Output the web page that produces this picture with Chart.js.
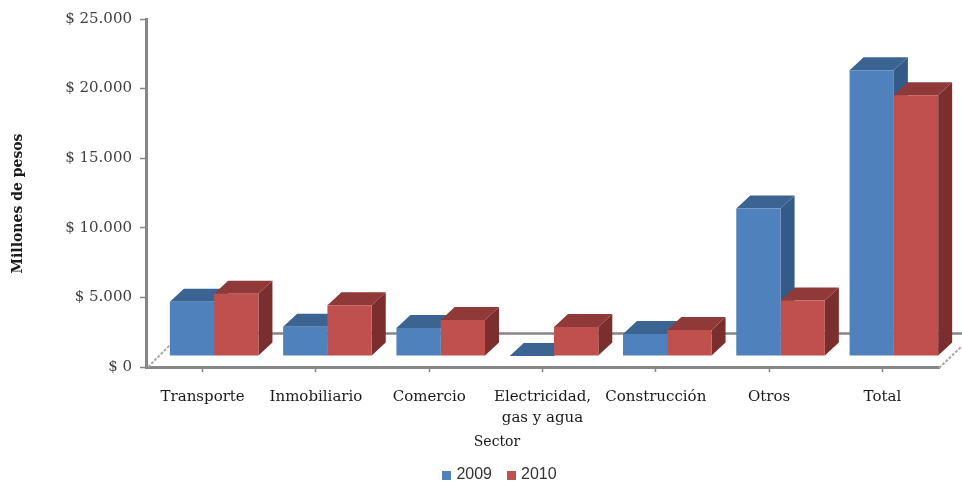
<!DOCTYPE html>
<html>
<head>
<meta charset="utf-8">
<style>html,body{margin:0;padding:0;background:#fff}canvas{display:block}</style>
<script src="https://cdn.jsdelivr.net/npm/chart.js@4"></script>
</head>
<body>
<canvas id="c" width="962" height="481"></canvas>
<script>
const categories = ['Transporte', 'Inmobiliario', 'Comercio', ['Electricidad,', 'gas y agua'], 'Construcción', 'Otros', 'Total'];
const values2009 = [3890, 2110, 2020, 0, 1585, 10590, 20530];
const values2010 = [4470, 3650, 2590, 2090, 1870, 3990, 18730];
const yTicks = [0, 5000, 10000, 15000, 20000, 25000];
const seriesNames = ['2009', '2010'];
const xTitle = 'Sector';
const yTitle = 'Millones de pesos';

const faceColors = [
  {front: '#4F81BD', top: '#3C6493', side: '#345A87'},
  {front: '#C0504D', top: '#8F3A38', side: '#7A2F2E'}
];
const serifFont = '"DejaVu Serif", serif';
const axisGrey = '#868686';
const shiftX = 11.5, shiftY = -11;
const depthX = 14, depthY = -13;

function swatch(color) {
  const s = document.createElement('canvas');
  s.width = 9; s.height = 9;
  const g = s.getContext('2d');
  g.fillStyle = color; g.fillRect(0, 0, 9, 9);
  return s;
}

const threeD = {
  id: 'threeD',
  afterLayout(chart) {
    const l = chart.legend;
    l.left += 31; l.right += 31;
    l.top += 12; l.bottom += 12;
  },
  beforeDatasetsDraw(chart) {
    const {ctx, chartArea: a} = chart;
    const y0 = chart.scales.y.getPixelForValue(0);
    ctx.save();
    ctx.strokeStyle = axisGrey;
    ctx.lineWidth = 2.5;
    ctx.beginPath();
    ctx.moveTo(a.left + 24, y0 - 33.5);
    ctx.lineTo(962, y0 - 33.5);
    ctx.stroke();
    ctx.strokeStyle = '#A8A8A8';
    ctx.lineWidth = 2;
    ctx.setLineDash([3, 1.5]);
    ctx.beginPath();
    ctx.moveTo(a.left + 2, y0);
    ctx.lineTo(a.left + 24, y0 - 22);
    ctx.moveTo(a.right, y0 + 1);
    ctx.lineTo(a.right + 23, y0 - 21);
    ctx.stroke();
    ctx.setLineDash([]);
    // side and top faces of every bar, first series underneath
    ctx.translate(shiftX, shiftY);
    faceColors.forEach((c, i) => {
      chart.getDatasetMeta(i).data.forEach(b => {
        const L = b.x - b.width / 2, R = b.x + b.width / 2;
        ctx.fillStyle = c.side;
        ctx.beginPath();
        ctx.moveTo(R, b.y); ctx.lineTo(R + depthX, b.y + depthY);
        ctx.lineTo(R + depthX, b.base + depthY); ctx.lineTo(R, b.base);
        ctx.closePath(); ctx.fill();
        ctx.fillStyle = c.top;
        ctx.beginPath();
        ctx.moveTo(L, b.y); ctx.lineTo(L + depthX, b.y + depthY);
        ctx.lineTo(R + depthX, b.y + depthY); ctx.lineTo(R, b.y);
        ctx.closePath(); ctx.fill();
      });
    });
    ctx.restore();
  },
  beforeDatasetDraw(chart) {
    chart.ctx.save();
    chart.ctx.translate(shiftX, shiftY);
  },
  afterDatasetDraw(chart) {
    chart.ctx.restore();
  },
  afterDraw(chart) {
    const {ctx} = chart;
    ctx.save();
    ctx.fillStyle = '#1a1a1a';
    ctx.textAlign = 'center';
    ctx.textBaseline = 'middle';
    ctx.font = '14px ' + serifFont;
    ctx.fillText(xTitle, 497, 442);
    ctx.translate(18, 203.5);
    ctx.rotate(-Math.PI / 2);
    ctx.font = 'bold 14px ' + serifFont;
    ctx.fillText(yTitle, 0, 0);
    ctx.restore();
  }
};

new Chart(document.getElementById('c'), {
  type: 'bar',
  plugins: [threeD],
  data: {
    labels: categories,
    datasets: [
      {label: seriesNames[0], data: values2009, backgroundColor: faceColors[0].front, clip: false},
      {label: seriesNames[1], data: values2010, backgroundColor: faceColors[1].front, clip: false}
    ]
  },
  options: {
    responsive: false,
    animation: false,
    layout: {padding: {left: 0, right: 23, top: 19, bottom: 0}},
    datasets: {bar: {barPercentage: 1, categoryPercentage: 0.782}},
    plugins: {
      tooltip: {enabled: false},
      legend: {
        position: 'bottom',
        labels: {
          color: '#333333',
          font: {family: '"Liberation Sans", sans-serif', size: 16},
          usePointStyle: true,
          pointStyleWidth: 4,
          boxHeight: 9,
          padding: 17,
          generateLabels: () => seriesNames.map((t, i) => ({
            text: t, datasetIndex: i, pointStyle: swatch(faceColors[i].front), fontColor: '#333333'
          }))
        }
      }
    },
    scales: {
      x: {
        afterFit(s) { s.height = 71; },
        grid: {offset: false, drawOnChartArea: false, color: axisGrey, tickLength: 5, tickWidth: 1.5},
        border: {color: axisGrey, width: 3},
        ticks: {
          color: '#1a1a1a', padding: 15, maxRotation: 0, autoSkip: false,
          font: {family: serifFont, size: 15, lineHeight: 1.4}
        }
      },
      y: {
        min: 0, max: 25000,
        afterFit(s) { s.width = 146; },
        afterBuildTicks(s) { s.ticks = yTicks.map(v => ({value: v})); },
        grid: {drawOnChartArea: false, color: axisGrey, tickLength: 6, tickWidth: 1.5},
        border: {color: axisGrey, width: 3},
        ticks: {
          color: '#404040', padding: 8,
          font: {family: serifFont, size: 15},
          callback: v => '$ ' + v.toLocaleString('es-CO').replace(/[,\s]/g, '.')
        }
      }
    }
  }
});
</script>
</body>
</html>
